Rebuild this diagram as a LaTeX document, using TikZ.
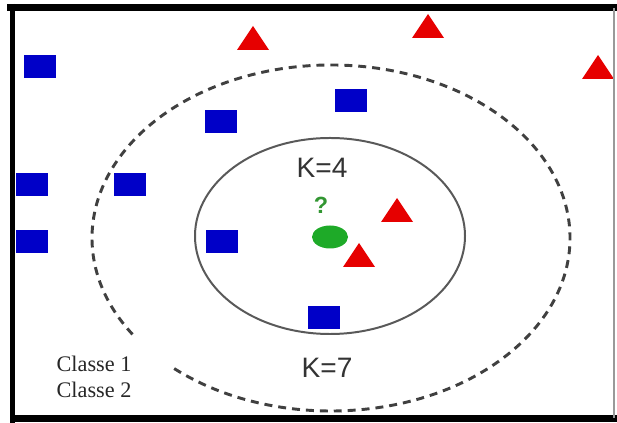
\documentclass[tikz,border=0pt]{standalone}
\usepackage{fontspec}
\setmainfont{Liberation Serif}
\setsansfont{Liberation Sans}
\usetikzlibrary{shapes.geometric}
\definecolor{sqblue}{RGB}{0,0,200}
\definecolor{trired}{RGB}{230,0,0}
\definecolor{qgreen}{RGB}{30,170,40}
\definecolor{qmarkgreen}{RGB}{50,150,50}
\begin{document}
\begin{tikzpicture}[x=0.03cm, y=0.03cm,
    sq/.style={fill=sqblue, minimum width=0.96cm, minimum height=0.69cm, inner sep=0pt},
    tri/.style={fill=trired},
    klabel/.style={font=\sffamily\fontsize{24}{28}\selectfont, text=black!80}]
    \useasboundingbox (0,0) rectangle (617,423);

    % Neighbourhoods
    \draw[line width=1.7pt, black!65] (330,187) ellipse [x radius=4.05cm, y radius=2.94cm];
    \draw[line width=2.5pt, black!75, dash pattern=on 6.8pt off 5.1pt]
        (331,185) ++({239*cos(229)},{173*sin(229)})
        arc[start angle=229, end angle=574, x radius=7.17cm, y radius=5.19cm];

    % Classe 1
    \foreach \x/\y [count=\i] in {40/356, 221/301, 351/322, 32/238, 130/238, 32/181, 222/181, 324/105}
        \node[sq] (sq\i) at (\x,\y) {};

    % Classe 2
    \foreach \x/\y in {253/373, 428/385, 598/344, 397/201, 359/156}
        \fill[tri] (\x,\y) ++(-16,0) -- ++(32,0) -- ++(-16,24) -- cycle;

    % Query point
    \node[ellipse, fill=qgreen, minimum width=1.08cm, minimum height=0.69cm, inner sep=0pt] (query) at (330,186) {};
    \node[font=\sffamily\bfseries\fontsize{20}{24}\selectfont, text=qmarkgreen] (qmark) at (321,218) {?};

    % Labels
    \node[klabel] (k4) at (322,255) {K=4};
    \node[klabel] (k7) at (327,55) {K=7};
    \node[font=\fontsize{19}{22}\selectfont, text=black!85] (leg1) at (94,59) {Classe 1};
    \node[font=\fontsize{19}{22}\selectfont, text=black!85] (leg2) at (94,33) {Classe 2};

    % Frame
    \draw[line width=6pt] (7,415.5) -- (617,415.5);
    \draw[line width=4.5pt] (12.5,419) -- (12.5,0);
    \draw[line width=6pt] (10,4.5) -- (617,4.5);
    \draw[line width=1.5pt, black!40] (614,415) -- (614,5);
\end{tikzpicture}
\end{document}
